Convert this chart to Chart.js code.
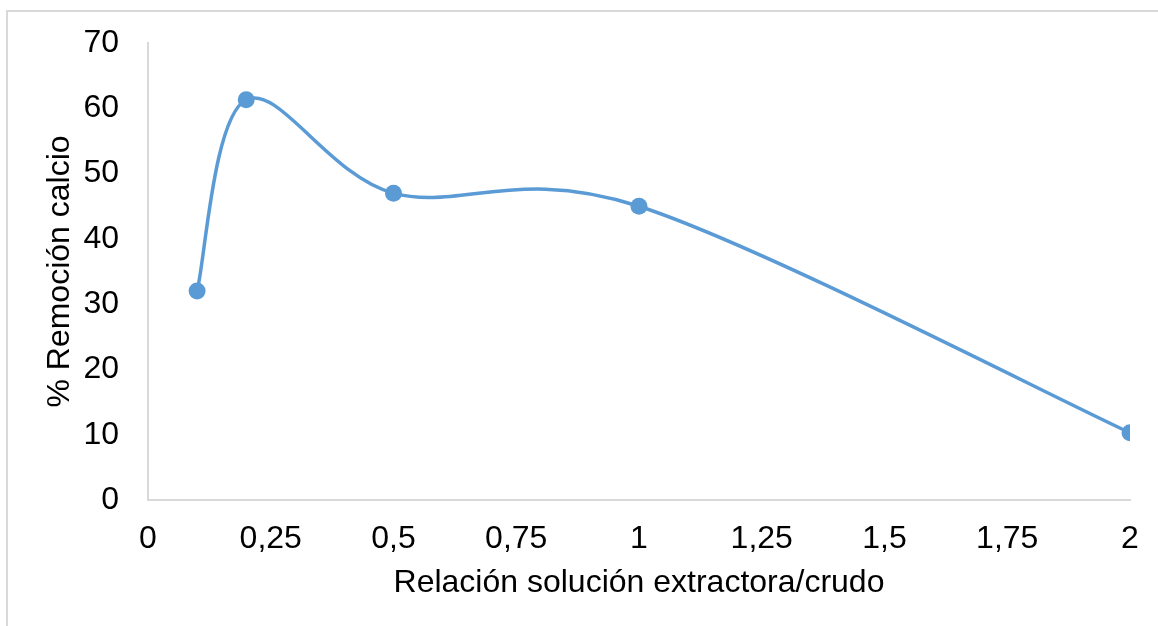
<!DOCTYPE html>
<html>
<head>
<meta charset="utf-8">
<script src="https://cdn.jsdelivr.net/npm/chart.js@4/dist/chart.umd.min.js"></script>
<style>
  html, body { margin: 0; padding: 0; background: #fff; }
  #wrap { position: relative; width: 1158px; height: 626px; overflow: hidden; }
  #frame { position: absolute; left: 6px; top: 10px; width: 1200px; height: 700px;
           border-left: 2px solid #d9d9d9; border-top: 2px solid #d9d9d9; box-sizing: border-box; }
  #c { position: absolute; left: 0; top: 0; }
</style>
</head>
<body>
<div id="wrap">
  <div id="frame"></div>
  <canvas id="c" width="1158" height="626"></canvas>
</div>
<script>
// Relación solución extractora/crudo vs. % remoción de calcio
const ratios = [0.1, 0.2, 0.5, 1, 2];
const removal = [32, 61.3, 47, 45, 10.3];
const xTickLabels = ['0', '0,25', '0,5', '0,75', '1', '1,25', '1,5', '1,75', '2'];
const yTickLabels = ['0', '10', '20', '30', '40', '50', '60', '70'];

const FONT = { family: '"Liberation Sans", Arial, sans-serif', size: 32 };
const BLUE = '#5b9bd5';

// Uniform Catmull-Rom smoothing: each control point sits one sixth of the
// neighbour-to-neighbour chord away from its point (in pixel space).
const uniformSmooth = {
  id: 'uniformSmooth',
  beforeDatasetDraw(chart, args) {
    const meta = args.meta;
    const line = meta.dataset;
    if (!line) return;
    line.updateControlPoints(chart.chartArea, meta.indexAxis || 'x');
    const pts = meta.data;
    const n = pts.length;
    for (let i = 0; i < n; i++) {
      const prev = pts[Math.max(i - 1, 0)];
      const next = pts[Math.min(i + 1, n - 1)];
      const cur = pts[i];
      const dx = (next.x - prev.x) / 6;
      const dy = (next.y - prev.y) / 6;
      cur.cp1x = cur.x - dx; cur.cp1y = cur.y - dy;
      cur.cp2x = cur.x + dx; cur.cp2y = cur.y + dy;
    }
  }
};

new Chart(document.getElementById('c'), {
  type: 'scatter',
  plugins: [uniformSmooth],
  data: {
    datasets: [{
      data: ratios.map((x, i) => ({ x, y: removal[i] })),
      showLine: true,
      borderColor: BLUE,
      backgroundColor: BLUE,
      borderWidth: 3.5,
      pointRadius: 8.5,
      pointHoverRadius: 8.5,
      pointBorderWidth: 0,
      tension: 0.4
    }]
  },
  options: {
    responsive: false,
    animation: false,
    events: [],
    layout: { padding: { left: 0, right: 28, top: 43, bottom: 0 } },
    plugins: { legend: { display: false }, tooltip: { enabled: false } },
    scales: {
      x: {
        type: 'linear',
        min: 0, max: 2,
        afterBuildTicks: s => { s.ticks = xTickLabels.map((_, i) => ({ value: i * 0.25 })); },
        afterFit: s => { s.height = 126; s.paddingLeft = 0; s.paddingRight = 0; },
        grid: { display: false, drawTicks: false },
        border: { display: true, color: '#d9d9d9', width: 2 },
        ticks: {
          color: '#000', font: FONT, padding: 20, maxRotation: 0, autoSkip: false,
          callback: (v, i) => xTickLabels[i]
        },
        title: {
          display: true, text: 'Relación solución extractora/crudo',
          color: '#000', font: FONT, padding: { top: 0, bottom: 24 }
        }
      },
      y: {
        min: 0, max: 70,
        afterBuildTicks: s => { s.ticks = yTickLabels.map(t => ({ value: Number(t) })); },
        afterFit: s => { s.width = 148; s.paddingTop = 0; s.paddingBottom = 0; },
        grid: { display: false, drawTicks: false },
        border: { display: true, color: '#d9d9d9', width: 2 },
        ticks: {
          color: '#000', font: FONT, padding: 29, autoSkip: false,
          callback: (v, i) => yTickLabels[i]
        },
        title: {
          display: true, text: '% Remoción calcio',
          color: '#000', font: FONT, padding: { top: 41, bottom: 0 }
        }
      }
    }
  }
});
</script>
</body>
</html>
